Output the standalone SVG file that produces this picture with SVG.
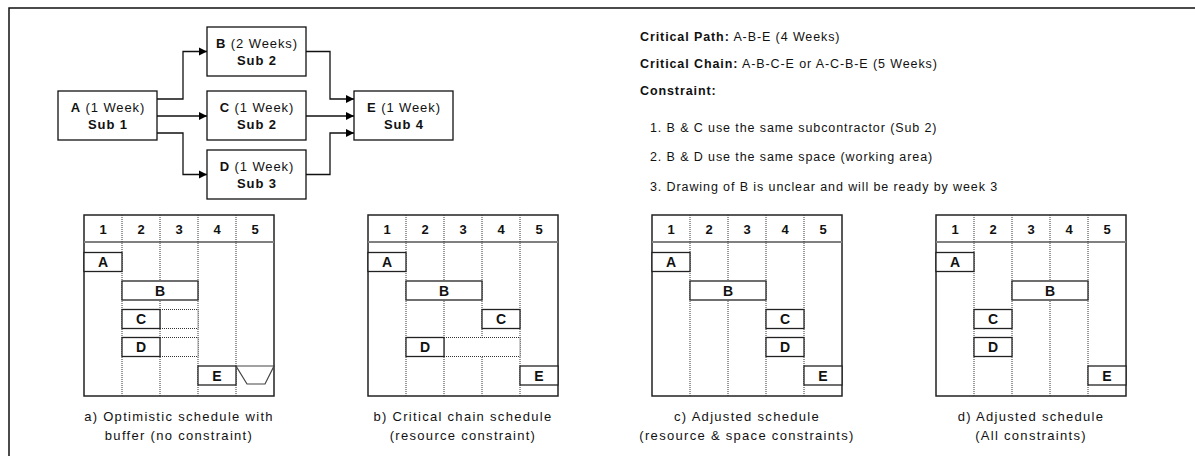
<svg xmlns="http://www.w3.org/2000/svg" width="1195" height="456" viewBox="0 0 1195 456">
<defs>
<marker id="arr" viewBox="0 0 10 10" refX="10" refY="5" markerWidth="8.5" markerHeight="8.5" markerUnits="userSpaceOnUse" orient="auto">
<path d="M0,0 L10,5 L0,10 Z" fill="#000"/>
</marker>
<style>
text{font-family:"Liberation Sans",Arial,Helvetica,sans-serif;fill:#111}
.nt{font-size:13px;text-anchor:middle;letter-spacing:0.9px}
.b{font-weight:bold}
.node{fill:#fff;stroke:#111;stroke-width:1.3}
.conn{fill:none;stroke:#111;stroke-width:1.3}
.frame{fill:#fff;stroke:#222;stroke-width:1.5}
.hdr{stroke:#808080;stroke-width:2}
.div{stroke:#333;stroke-width:1;stroke-dasharray:1,1}
.bar{fill:#fff;stroke:#222;stroke-width:1.3}
.ext{fill:#fff;stroke:#333;stroke-width:1;stroke-dasharray:1,1}
.hn{font-size:13px;font-weight:bold;text-anchor:middle}
.bl{font-size:14px;font-weight:bold;text-anchor:middle}
.cap{font-size:13px;text-anchor:middle;letter-spacing:1.3px}
.rt{font-size:12.5px;letter-spacing:0.9px}
</style>
</defs>
<path d="M9,456 V8 H1195" fill="none" stroke="#111" stroke-width="1.5"/>

<g id="connectors">
<path class="conn" d="M157,99 H183 V51.5 H207" marker-end="url(#arr)"/>
<path class="conn" d="M157,116 H207" marker-end="url(#arr)"/>
<path class="conn" d="M157,133 H183 V174.5 H207" marker-end="url(#arr)"/>
<path class="conn" d="M306,51.5 H330 V99 H354" marker-end="url(#arr)"/>
<path class="conn" d="M306,116 H354" marker-end="url(#arr)"/>
<path class="conn" d="M306,174.5 H330 V133 H354" marker-end="url(#arr)"/>
</g>

<g id="node-A">
<rect class="node" x="58" y="91" width="99" height="49"/>
<text class="nt" x="108" y="112"><tspan class="b">A</tspan> (1 Week)</text>
<text class="nt b" x="108" y="129">Sub 1</text>
</g>
<g id="node-B">
<rect class="node" x="207" y="27" width="99" height="49"/>
<text class="nt" x="257" y="48"><tspan class="b">B</tspan> (2 Weeks)</text>
<text class="nt b" x="257" y="65">Sub 2</text>
</g>
<g id="node-C">
<rect class="node" x="207" y="91" width="99" height="49"/>
<text class="nt" x="257" y="112"><tspan class="b">C</tspan> (1 Week)</text>
<text class="nt b" x="257" y="129">Sub 2</text>
</g>
<g id="node-D">
<rect class="node" x="207" y="150" width="99" height="49"/>
<text class="nt" x="257" y="171"><tspan class="b">D</tspan> (1 Week)</text>
<text class="nt b" x="257" y="188">Sub 3</text>
</g>
<g id="node-E">
<rect class="node" x="354" y="91" width="99" height="49"/>
<text class="nt" x="404" y="112"><tspan class="b">E</tspan> (1 Week)</text>
<text class="nt b" x="404" y="129">Sub 4</text>
</g>

<g id="notes">
<text class="rt" x="640" y="41"><tspan class="b">Critical Path:</tspan> A-B-E (4 Weeks)</text>
<text class="rt" x="640" y="68"><tspan class="b">Critical Chain:</tspan> A-B-C-E or A-C-B-E (5 Weeks)</text>
<text class="rt b" x="640" y="95">Constraint:</text>
<text class="rt" x="650" y="132">1. B &amp; C use the same subcontractor (Sub 2)</text>
<text class="rt" x="650" y="161">2. B &amp; D use the same space (working area)</text>
<text class="rt" x="650" y="191">3. Drawing of B is unclear and will be ready by week 3</text>
</g>

<g id="chart-a" transform="translate(84,0)">
<rect class="frame" x="0" y="215" width="190" height="181"/>
<line class="hdr" x1="0" y1="242" x2="190" y2="242"/>
<line class="div" x1="38" y1="215" x2="38" y2="396"/>
<line class="div" x1="76" y1="215" x2="76" y2="396"/>
<line class="div" x1="114" y1="215" x2="114" y2="396"/>
<line class="div" x1="152" y1="215" x2="152" y2="396"/>
<text class="hn" x="19" y="234">1</text><text class="hn" x="57" y="234">2</text><text class="hn" x="95" y="234">3</text><text class="hn" x="133" y="234">4</text><text class="hn" x="171" y="234">5</text>
<rect class="bar" x="0" y="252.5" width="38" height="19"/><text class="bl" x="19" y="267">A</text>
<rect class="bar" x="38" y="281" width="76" height="19"/><text class="bl" x="76" y="295.5">B</text>
<rect class="ext" x="76" y="309.5" width="38" height="19"/>
<rect class="bar" x="38" y="309.5" width="38" height="19"/><text class="bl" x="57" y="324">C</text>
<rect class="ext" x="76" y="337.5" width="38" height="19"/>
<rect class="bar" x="38" y="337.5" width="38" height="19"/><text class="bl" x="57" y="352">D</text>
<rect class="bar" x="114" y="366" width="38" height="19"/><text class="bl" x="133" y="380.5">E</text>
<polygon points="152,366 190,366 181,384 163,384" fill="#fff" stroke="#444" stroke-width="1.2"/>
<text class="cap" x="95" y="421">a) Optimistic schedule with</text>
<text class="cap" x="95" y="440">buffer (no constraint)</text>
</g>

<g id="chart-b" transform="translate(368,0)">
<rect class="frame" x="0" y="215" width="190" height="181"/>
<line class="hdr" x1="0" y1="242" x2="190" y2="242"/>
<line class="div" x1="38" y1="215" x2="38" y2="396"/>
<line class="div" x1="76" y1="215" x2="76" y2="396"/>
<line class="div" x1="114" y1="215" x2="114" y2="396"/>
<line class="div" x1="152" y1="215" x2="152" y2="396"/>
<text class="hn" x="19" y="234">1</text><text class="hn" x="57" y="234">2</text><text class="hn" x="95" y="234">3</text><text class="hn" x="133" y="234">4</text><text class="hn" x="171" y="234">5</text>
<rect class="bar" x="0" y="252.5" width="38" height="19"/><text class="bl" x="19" y="267">A</text>
<rect class="bar" x="38" y="281" width="76" height="19"/><text class="bl" x="76" y="295.5">B</text>
<rect class="bar" x="114" y="309.5" width="38" height="19"/><text class="bl" x="133" y="324">C</text>
<rect class="ext" x="76" y="337.5" width="76" height="19"/>
<rect class="bar" x="38" y="337.5" width="38" height="19"/><text class="bl" x="57" y="352">D</text>
<rect class="bar" x="152" y="366" width="38" height="19"/><text class="bl" x="171" y="380.5">E</text>
<text class="cap" x="95" y="421">b) Critical chain schedule</text>
<text class="cap" x="95" y="440">(resource constraint)</text>
</g>

<g id="chart-c" transform="translate(652,0)">
<rect class="frame" x="0" y="215" width="190" height="181"/>
<line class="hdr" x1="0" y1="242" x2="190" y2="242"/>
<line class="div" x1="38" y1="215" x2="38" y2="396"/>
<line class="div" x1="76" y1="215" x2="76" y2="396"/>
<line class="div" x1="114" y1="215" x2="114" y2="396"/>
<line class="div" x1="152" y1="215" x2="152" y2="396"/>
<text class="hn" x="19" y="234">1</text><text class="hn" x="57" y="234">2</text><text class="hn" x="95" y="234">3</text><text class="hn" x="133" y="234">4</text><text class="hn" x="171" y="234">5</text>
<rect class="bar" x="0" y="252.5" width="38" height="19"/><text class="bl" x="19" y="267">A</text>
<rect class="bar" x="38" y="281" width="76" height="19"/><text class="bl" x="76" y="295.5">B</text>
<rect class="bar" x="114" y="309.5" width="38" height="19"/><text class="bl" x="133" y="324">C</text>
<rect class="bar" x="114" y="337.5" width="38" height="19"/><text class="bl" x="133" y="352">D</text>
<rect class="bar" x="152" y="366" width="38" height="19"/><text class="bl" x="171" y="380.5">E</text>
<text class="cap" x="95" y="421">c) Adjusted schedule</text>
<text class="cap" x="95" y="440">(resource &amp; space constraints)</text>
</g>

<g id="chart-d" transform="translate(936,0)">
<rect class="frame" x="0" y="215" width="190" height="181"/>
<line class="hdr" x1="0" y1="242" x2="190" y2="242"/>
<line class="div" x1="38" y1="215" x2="38" y2="396"/>
<line class="div" x1="76" y1="215" x2="76" y2="396"/>
<line class="div" x1="114" y1="215" x2="114" y2="396"/>
<line class="div" x1="152" y1="215" x2="152" y2="396"/>
<text class="hn" x="19" y="234">1</text><text class="hn" x="57" y="234">2</text><text class="hn" x="95" y="234">3</text><text class="hn" x="133" y="234">4</text><text class="hn" x="171" y="234">5</text>
<rect class="bar" x="0" y="252.5" width="38" height="19"/><text class="bl" x="19" y="267">A</text>
<rect class="bar" x="76" y="281" width="76" height="19"/><text class="bl" x="114" y="295.5">B</text>
<rect class="bar" x="38" y="309.5" width="38" height="19"/><text class="bl" x="57" y="324">C</text>
<rect class="bar" x="38" y="337.5" width="38" height="19"/><text class="bl" x="57" y="352">D</text>
<rect class="bar" x="152" y="366" width="38" height="19"/><text class="bl" x="171" y="380.5">E</text>
<text class="cap" x="95" y="421">d) Adjusted schedule</text>
<text class="cap" x="95" y="440">(All constraints)</text>
</g>
</svg>
